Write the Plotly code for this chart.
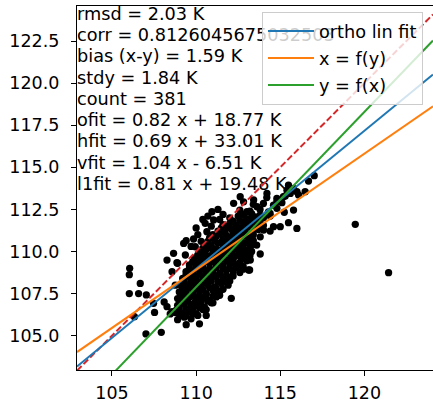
import numpy as np
import plotly.graph_objects as go

# ---- data ----
obs_x = [
    119.46, 121.44, 106.05, 106.03, 106.68, 106.03, 106.58, 107.04, 106.33, 107.02,
    107.93, 107.47, 107.53, 108.27, 108.57, 108.76, 109.06, 109.41, 109.65, 112.09,
    113.18, 113.81, 113.60, 108.27, 108.66, 108.90, 109.41, 109.85, 110.94, 111.04,
    110.54, 110.64, 115.49, 115.99, 115.24, 116.68, 117.02, 115.49, 115.79, 115.60,
    115.99, 115.40, 114.60, 114.40, 112.72, 112.23, 112.82, 113.02, 113.62, 113.32,
    114.01, 114.40, 114.80, 115.00, 114.01, 113.81, 113.22, 113.12, 112.62, 108.57,
    108.76, 109.36, 109.95, 110.44, 108.86, 112.62, 113.42, 114.21, 114.80, 115.19,
    115.79, 116.09, 116.48, 115.79, 109.26, 110.10, 110.30, 109.70, 110.00, 110.40,
    110.70, 111.30, 111.60, 111.40, 110.90, 111.24, 110.60, 110.20, 108.46, 108.10,
    # dense core
    108.9, 109.3, 109.7, 110.1,
    109.0, 109.4, 109.8,
    108.8, 109.2, 109.6, 110.0, 110.4,
    109.0, 109.4, 109.8, 110.2, 110.6,
    108.9, 109.3, 109.7, 110.1, 110.5, 110.9,
    109.1, 109.5, 109.9, 110.3, 110.7, 111.0,
    108.9, 109.2, 109.6, 110.0, 110.4, 110.8, 111.2,
    109.1, 109.4, 109.8, 110.2, 110.6, 111.0, 111.4,
    109.0, 109.4, 109.8, 110.2, 110.6, 111.0, 111.4,
    109.2, 109.6, 110.0, 110.4, 110.8, 111.2, 111.6,
    109.1, 109.5, 109.9, 110.3, 110.7, 111.1, 111.5, 111.9,
    109.3, 109.7, 110.1, 110.5, 110.9, 111.3, 111.7, 112.0,
    109.2, 109.6, 110.0, 110.4, 110.8, 111.2, 111.6, 112.0,
    109.4, 109.8, 110.2, 110.6, 111.0, 111.4, 111.8, 112.2,
    109.4, 109.8, 110.2, 110.6, 111.0, 111.4, 111.8, 112.2, 112.6,
    109.6, 110.0, 110.4, 110.8, 111.2, 111.6, 112.0, 112.4, 112.8,
    109.6, 110.0, 110.4, 110.8, 111.2, 111.6, 112.0, 112.4, 112.8,
    109.8, 110.2, 110.6, 111.0, 111.4, 111.8, 112.2, 112.6, 113.0,
    109.9, 110.3, 110.7, 111.1, 111.5, 111.9, 112.3, 112.7, 113.1,
    110.1, 110.5, 110.9, 111.3, 111.7, 112.1, 112.5, 112.9, 113.2,
    110.2, 110.6, 111.0, 111.4, 111.8, 112.2, 112.6, 113.0, 113.3,
    110.4, 110.8, 111.2, 111.6, 112.0, 112.4, 112.8, 113.2,
    110.5, 110.9, 111.3, 111.7, 112.1, 112.5, 112.9, 113.3,
    110.7, 111.1, 111.5, 111.9, 112.3, 112.7, 113.1, 113.4,
    110.8, 111.2, 111.6, 112.0, 112.4, 112.8, 113.2,
    111.0, 111.4, 111.8, 112.2, 112.6, 113.0, 113.4,
    111.3, 111.7, 112.1, 112.5, 112.9, 113.3, 113.7,
    111.5, 111.9, 112.3, 112.7, 113.1, 113.5,
    111.6, 112.0, 112.4, 112.8, 113.2, 113.6, 114.0,
    112.2, 112.6, 113.0, 113.4, 113.8,
    112.0, 112.5, 113.0, 113.5, 114.0, 114.4,
    112.8, 113.3, 113.8,
    112.6, 113.2, 113.8, 114.3,
    113.4, 114.0, 114.6, 115.1,
    114.2, 114.8, 115.3,
]
obs_y = [
    111.61, 108.74, 109.00, 108.62, 108.10, 107.50, 107.50, 107.42, 106.13, 105.10,
    105.20, 106.92, 106.38, 106.72, 106.42, 106.37, 106.33, 105.65, 106.42, 107.22,
    108.90, 109.85, 110.38, 109.49, 109.89, 109.30, 110.64, 110.74, 112.36, 111.87,
    111.67, 111.17, 111.71, 111.37, 112.33, 114.18, 114.50, 113.94, 113.75, 113.45,
    113.55, 113.64, 111.47, 111.21, 111.08, 112.86, 112.95, 112.36, 112.66, 112.06,
    112.06, 112.26, 112.56, 111.47, 111.27, 110.87, 109.49, 108.90, 109.20, 108.80,
    108.00, 109.79, 110.28, 109.89, 109.33, 113.25, 113.06, 113.45, 112.96, 113.25,
    113.65, 113.36, 113.55, 112.46, 110.48, 111.00, 110.60, 110.30, 111.40, 111.90,
    112.10, 112.50, 112.20, 111.90, 111.50, 107.66, 106.20, 105.70, 106.29, 107.00,
    # dense core
    105.95, 106.10, 106.00, 106.20,
    106.25, 106.20, 106.30,
    106.50, 106.35, 106.45, 106.30, 106.55,
    106.65, 106.60, 106.60, 106.65, 106.55,
    106.80, 106.90, 106.75, 106.85, 106.70, 106.95,
    107.00, 107.05, 106.95, 107.00, 107.05, 106.95,
    107.20, 107.10, 107.30, 107.15, 107.25, 107.10, 107.30,
    107.40, 107.45, 107.35, 107.40, 107.45, 107.35, 107.40,
    107.60, 107.70, 107.55, 107.65, 107.50, 107.70, 107.60,
    107.80, 107.85, 107.80, 107.75, 107.85, 107.80, 107.75,
    108.00, 107.95, 108.10, 108.00, 108.05, 107.90, 108.10, 108.00,
    108.20, 108.25, 108.20, 108.15, 108.25, 108.20, 108.20, 108.25,
    108.40, 108.50, 108.35, 108.45, 108.40, 108.50, 108.35, 108.45,
    108.60, 108.60, 108.65, 108.55, 108.60, 108.65, 108.60, 108.55,
    108.80, 108.75, 108.90, 108.80, 108.85, 108.70, 108.90, 108.80, 108.75,
    109.00, 109.05, 108.95, 109.00, 109.05, 108.95, 109.00, 109.05, 108.95,
    109.20, 109.25, 109.10, 109.30, 109.20, 109.15, 109.25, 109.20, 109.10,
    109.40, 109.35, 109.45, 109.40, 109.35, 109.45, 109.40, 109.35, 109.45,
    109.60, 109.55, 109.70, 109.60, 109.65, 109.50, 109.70, 109.60, 109.55,
    109.80, 109.85, 109.75, 109.80, 109.85, 109.75, 109.80, 109.85, 109.75,
    110.00, 110.10, 109.95, 110.05, 110.00, 110.10, 109.95, 110.05, 110.00,
    110.20, 110.25, 110.15, 110.20, 110.25, 110.15, 110.20, 110.25,
    110.40, 110.35, 110.50, 110.40, 110.45, 110.35, 110.50, 110.40,
    110.60, 110.65, 110.55, 110.60, 110.65, 110.55, 110.60, 110.65,
    110.80, 110.90, 110.75, 110.85, 110.80, 110.90, 110.75,
    111.00, 111.05, 110.95, 111.00, 111.05, 110.95, 111.00,
    111.20, 111.15, 111.30, 111.20, 111.25, 111.10, 111.30,
    111.40, 111.45, 111.35, 111.40, 111.45, 111.35,
    111.60, 111.65, 111.55, 111.70, 111.60, 111.65, 111.55,
    111.80, 111.85, 111.75, 111.80, 111.85,
    112.00, 112.10, 111.95, 112.05, 112.00, 112.10,
    112.20, 112.25, 112.15,
    112.45, 112.40, 112.50, 112.35,
    112.80, 112.85, 112.75, 112.90,
    113.20, 113.15, 113.30,
]
n_pts = min(len(obs_x), len(obs_y))
obs_x, obs_y = obs_x[:n_pts], obs_y[:n_pts]

fit_names = ["ortho lin fit", "x = f(y)", "y = f(x)"]
fit_slopes = [0.82, 0.69, 1.04]
fit_intercepts = [18.77, 33.01, -6.51]
fit_colors = ["#1f77b4", "#ff7f0e", "#2ca02c"]

stats_lines = [
    "rmsd = 2.03 K",
    "corr = 0.8126045675032503",
    "bias (x-y) = 1.59 K",
    "stdy = 1.84 K",
    "count = 381",
    "ofit = 0.82 x + 18.77 K",
    "hfit = 0.69 x + 33.01 K",
    "vfit = 1.04 x - 6.51 K",
    "l1fit = 0.81 x + 19.48 K",
]

x_ticks = [105, 110, 115, 120]
y_ticks = [105.0, 107.5, 110.0, 112.5, 115.0, 117.5, 120.0, 122.5]

# ---- layout geometry ----
W, H = 433, 402
ML, MR, MT, MB = 77, 0, 6, 32
x_range = [102.92, 124.08]
y_range = [102.96, 124.58]
plot_w = W - ML - MR
plot_h = H - MT - MB
px_per_y = plot_h / (y_range[1] - y_range[0])
FONT = "DejaVu Sans"
FS_TEXT = 17.7
FS_TICK = 17.5

fig = go.Figure()

# stats text drawn as a text trace (beneath the points and the legend)
line_step = 21.25
first_center = 9.5
text_y = [y_range[1] - (first_center + i * line_step) / px_per_y for i in range(len(stats_lines))]
fig.add_trace(go.Scatter(
    x=[x_range[0]] * len(stats_lines), y=text_y, mode="text",
    text=stats_lines, textposition="middle right",
    textfont=dict(family=FONT, size=FS_TEXT, color="black"),
    showlegend=False, cliponaxis=False, hoverinfo="skip"))

fig.add_trace(go.Scatter(
    x=obs_x, y=obs_y, mode="markers",
    marker=dict(color="black", size=7.3, line=dict(width=0)),
    showlegend=False))

xl = np.array(x_range)
fig.add_trace(go.Scatter(
    x=xl, y=xl, mode="lines",
    line=dict(color="#d62728", width=2, dash="6.5px,2.8px"),
    showlegend=False))

for i, (nm, s, b, c) in enumerate(zip(fit_names, fit_slopes, fit_intercepts, fit_colors)):
    fig.add_trace(go.Scatter(
        x=xl, y=s * xl + b, mode="lines", name=nm,
        line=dict(color=c, width=2), legendgroup=f"g{i}"))

fig.update_layout(
    width=W, height=H,
    margin=dict(l=ML, r=MR, t=MT, b=MB, pad=0, autoexpand=False),
    plot_bgcolor="white", paper_bgcolor="white",
    font=dict(family=FONT, size=FS_TEXT, color="black"),
    showlegend=True,
    legend=dict(
        x=(262 - ML) / plot_w, xanchor="left", y=(H - MB - 12) / plot_h, yanchor="top",
        bgcolor="rgba(255,255,255,0.8)", bordercolor="#cccccc", borderwidth=1,
        font=dict(family=FONT, size=FS_TEXT, color="black"),
        itemwidth=46, tracegroupgap=1),
    xaxis=dict(
        range=x_range, tickvals=x_ticks, ticktext=[str(v) for v in x_ticks],
        showgrid=False, zeroline=False, showline=True, linecolor="black",
        linewidth=1.2, mirror=True, ticks="outside", ticklen=5, tickcolor="black",
        tickfont=dict(family=FONT, size=FS_TICK), automargin=False,
        ticklabelstandoff=2),
    yaxis=dict(
        range=y_range, tickvals=y_ticks, ticktext=[f"{v:.1f}" for v in y_ticks],
        showgrid=False, zeroline=False, showline=True, linecolor="black",
        linewidth=1.2, mirror=False, ticks="outside", ticklen=5, tickcolor="black",
        tickfont=dict(family=FONT, size=FS_TICK), automargin=False,
        ticklabelstandoff=8),
)

fig.write_html(
    "out.html",
    config={"displayModeBar": False},
    post_script="document.body.style.margin='0px';document.body.style.padding='0px';",
)
